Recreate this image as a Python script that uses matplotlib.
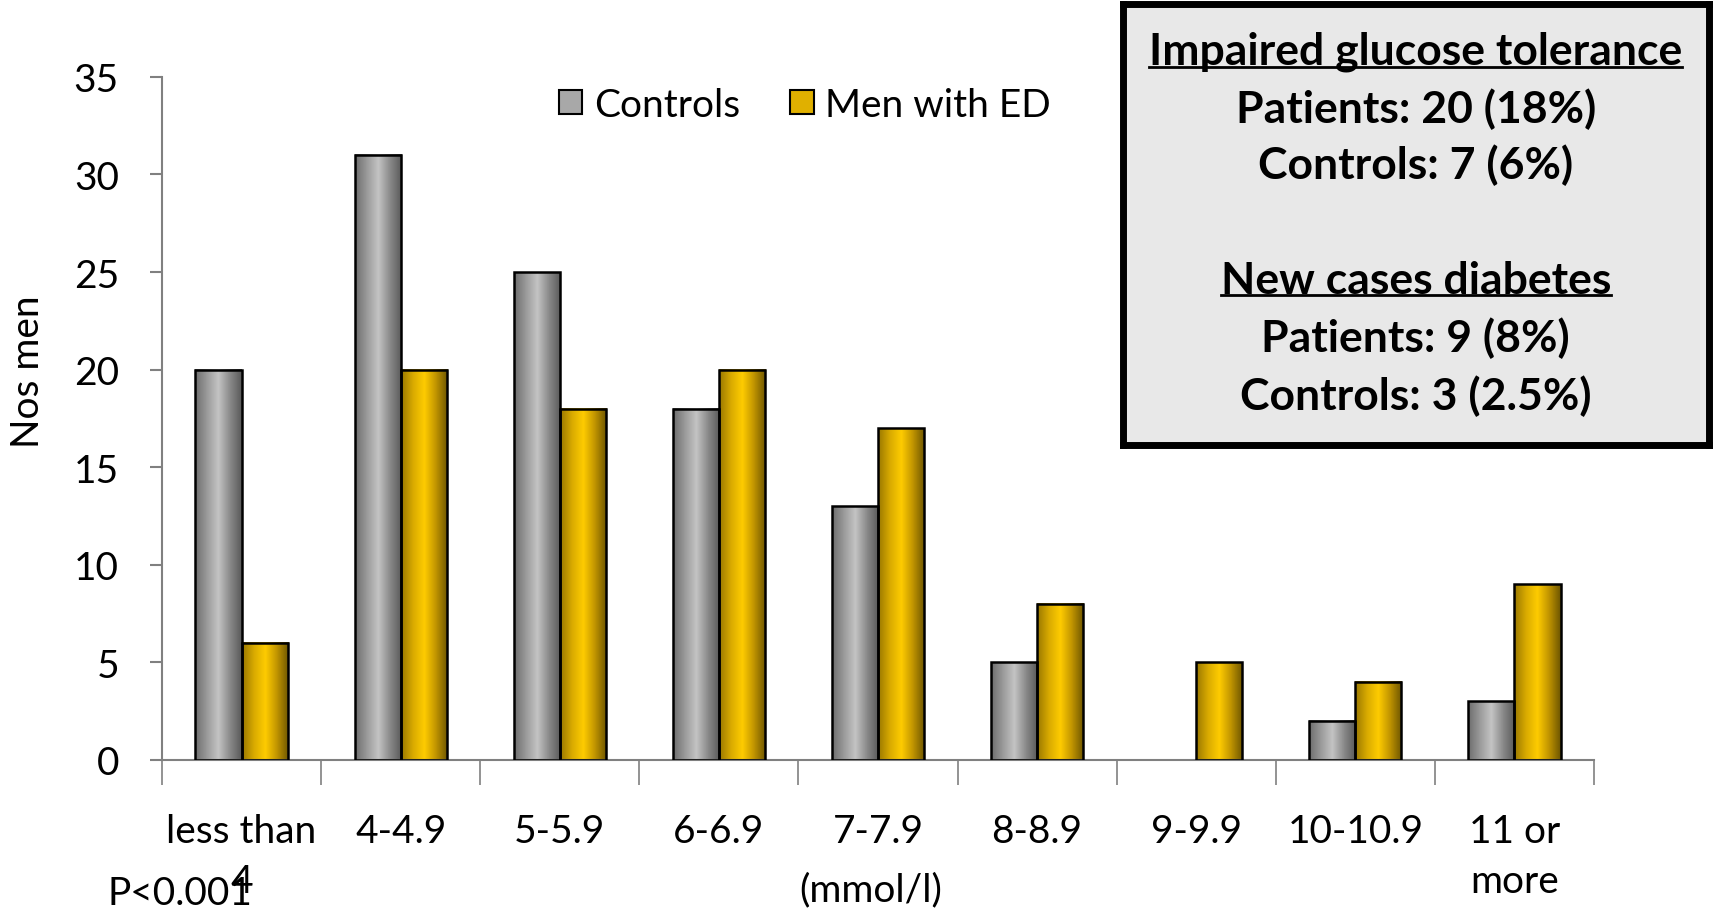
import matplotlib.pyplot as plt
import numpy as np
from matplotlib.colors import LinearSegmentedColormap
from matplotlib.patches import Patch

plt.rcParams['font.family'] = ['Lato', 'DejaVu Sans']

# data
categories = ['less than\n4', '4-4.9', '5-5.9', '6-6.9', '7-7.9', '8-8.9', '9-9.9', '10-10.9', '11 or\nmore']
controls = [20, 31, 25, 18, 13, 5, 0, 2, 3]
men_with_ed = [6, 20, 18, 20, 17, 8, 5, 4, 9]
box_lines = ['Impaired glucose tolerance', 'Patients: 20 (18%)', 'Controls: 7 (6%)', '',
             'New cases diabetes', 'Patients: 9 (8%)', 'Controls: 3 (2.5%)']

gray_cmap = LinearSegmentedColormap.from_list('g', ['#6e6e6e', '#9a9a9a', '#c4c4c4', '#8a8a8a', '#5a5a5a'])
gold_cmap = LinearSegmentedColormap.from_list('y', ['#9a7800', '#d8aa00', '#ffcc00', '#c09400', '#6e5600'])

fig = plt.figure(figsize=(17.14, 9.12), dpi=100)
ax = fig.add_axes([0.0945, 0.1656, 0.8355, 0.749])

x = np.arange(len(categories))
w = 0.29
grad = np.linspace(0, 1, 64).reshape(1, -1)


def gradient_bars(xpos, heights, cmap, label):
    bars = ax.bar(xpos, heights, w, facecolor='none', edgecolor='black', linewidth=1.8, zorder=3, label=label)
    for b in bars:
        if b.get_height() <= 0:
            b.set_visible(False)
            continue
        x0 = b.get_x()
        ax.imshow(grad, cmap=cmap, aspect='auto', zorder=2,
                  extent=[x0, x0 + b.get_width(), 0, b.get_height()])
    return bars


gradient_bars(x - w / 2, controls, gray_cmap, 'Controls')
gradient_bars(x + w / 2, men_with_ed, gold_cmap, 'Men with ED')

fs = 28
ax.set_xlim(-0.5, len(categories) - 0.5)
ax.set_ylim(0, 35)
ax.set_yticks(range(0, 36, 5))
ax.tick_params(axis='y', labelsize=fs, length=9, width=1.5, color='#808080', pad=22)
ax.set_xticks(x)
ax.set_xticklabels(categories, fontsize=fs, linespacing=1.5, va='top')
ax.tick_params(axis='x', which='major', length=0, pad=38)
ax.set_xticks(np.arange(-0.5, len(categories), 1), minor=True)
ax.tick_params(axis='x', which='minor', length=18, width=1.2, color='#808080', direction='out')
for s in ['top', 'right']:
    ax.spines[s].set_visible(False)
for s in ['left', 'bottom']:
    ax.spines[s].set_color('#808080')
    ax.spines[s].set_linewidth(1.5)
ax.set_ylabel('Nos men', fontsize=fs)
ax.yaxis.set_label_coords(-0.081, 0.57)

handles = [Patch(facecolor='#a8a8a8', edgecolor='black', linewidth=1.5),
           Patch(facecolor='#e0b000', edgecolor='black', linewidth=1.5)]
fig.legend(handles, ['Controls', 'Men with ED'], loc='center left', bbox_to_anchor=(0.326, 0.884),
           ncol=2, frameon=False, fontsize=fs, handlelength=0.6, handleheight=0.6,
           handletextpad=0.3, columnspacing=1.3, borderpad=0, borderaxespad=0)

fig.text(0.508, 0.004, '(mmol/l)', fontsize=fs, ha='center', va='bottom')
fig.text(0.063, 0.0, 'P<0.001', fontsize=fs, ha='left', va='bottom')

# info box
box = fig.add_axes([0.655, 0.511, 0.342, 0.484])
box.set_xticks([])
box.set_yticks([])
box.set_facecolor('#e8e8e8')
for s in box.spines.values():
    s.set_linewidth(5)
    s.set_color('black')
box.set_xlim(0, 1)
box.set_ylim(0, 1)
ys = [0.893, 0.764, 0.635, 0.5, 0.374, 0.243, 0.113]
fig.canvas.draw()
for txt, yy in zip(box_lines, ys):
    if not txt:
        continue
    t = box.text(0.5, yy, txt, fontsize=32, fontweight='bold', ha='center', va='center',
                 transform=box.transAxes)
    if txt in ('Impaired glucose tolerance', 'New cases diabetes'):
        fig.canvas.draw()
        bb = t.get_window_extent().transformed(box.transAxes.inverted())
        box.plot([bb.x0, bb.x1], [bb.y0 + 0.01, bb.y0 + 0.01], color='black', lw=2,
                 transform=box.transAxes, clip_on=False)

fig.savefig('out.png', dpi=100)
